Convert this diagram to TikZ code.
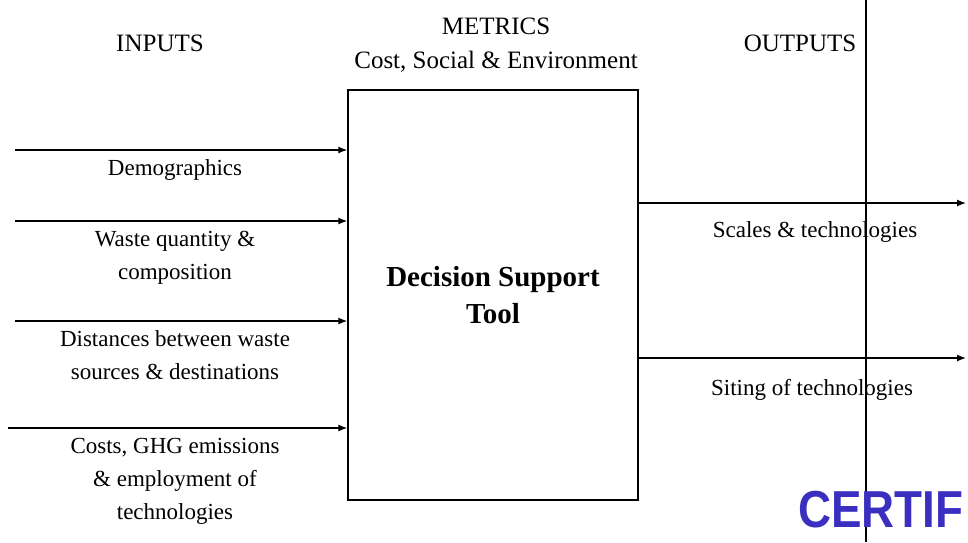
\documentclass[tikz,border=0pt]{standalone}
\usepackage{fontspec}
\setmainfont{Liberation Serif}
\newfontfamily\stampfont{Liberation Sans}
\usepackage{graphicx}
\usepackage{tikz}
\usetikzlibrary{positioning, arrows.meta}
\definecolor{stampblue}{HTML}{3B2FC2}
\tikzset{
	headnode/.style={
			inner sep=0pt,
			align=center,
			font=\fontsize{25}{31}\selectfont
		},
	labelnode/.style={
			inner sep=0pt,
			align=center,
			font=\fontsize{23}{33}\selectfont
		},
	toolnode/.style={
			draw=black,
			line width=1.4pt,
			minimum width=290pt,
			minimum height=410pt,
			inner sep=0pt,
			align=center,
			font=\fontsize{29}{37}\selectfont\bfseries
		},
	flow/.style={
			line width=1.3pt,
			-{Latex[length=9pt,width=7pt]}
		}
}

\begin{document}
\begin{tikzpicture}[x=1pt, y=-1pt]
\useasboundingbox (0,0) rectangle (968,542);
\clip (0,0) rectangle (968,542);

\node[headnode] (inputs) at (160,43) {INPUTS};
\node[headnode] (metrics) at (496,26) {METRICS};
\node[headnode] (criteria) at (496,62) {Cost, Social \& Environment};
\node[headnode] (outputs) at (800,43) {OUTPUTS};

\node[toolnode] (dst) at (493,295) {Decision Support\\Tool};

% inputs
\coordinate (i1) at (15,150);
\coordinate (i2) at (15,221);
\coordinate (i3) at (15,321);
\coordinate (i4) at (8,428);
\draw[flow] (i1) -- (i1 -| dst.west);
\draw[flow] (i2) -- (i2 -| dst.west);
\draw[flow] (i3) -- (i3 -| dst.west);
\draw[flow] (i4) -- (i4 -| dst.west);

\node[labelnode] (l1) at (175,170) {Demographics};
\node[labelnode] (l2) at (175,258) {Waste quantity \&\\composition};
\node[labelnode] (l3) at (175,355) {Distances between waste\\sources \& destinations};
\node[labelnode] (l4) at (175,481) {Costs, GHG emissions\\\& employment of\\technologies};

% outputs
\coordinate (o1) at (966,203);
\coordinate (o2) at (966,358);
\draw[flow] (o1 -| dst.east) -- (o1);
\draw[flow] (o2 -| dst.east) -- (o2);

\node[labelnode] (r1) at (815,232) {Scales \& technologies};
\node[labelnode] (r2) at (812,390) {Siting of technologies};

% scan artefacts
\coordinate (v1) at (866,0);
\coordinate (v2) at (866,542);
\draw[line width=1.2pt] (v1) -- (v2);
\node[anchor=base west, inner sep=0pt, text=stampblue,
      font=\stampfont\fontsize{52}{52}\selectfont\bfseries] (stamp) at (798,527)
      {\scalebox{0.88}[1]{CERTIF}};
\end{tikzpicture}
\end{document}
